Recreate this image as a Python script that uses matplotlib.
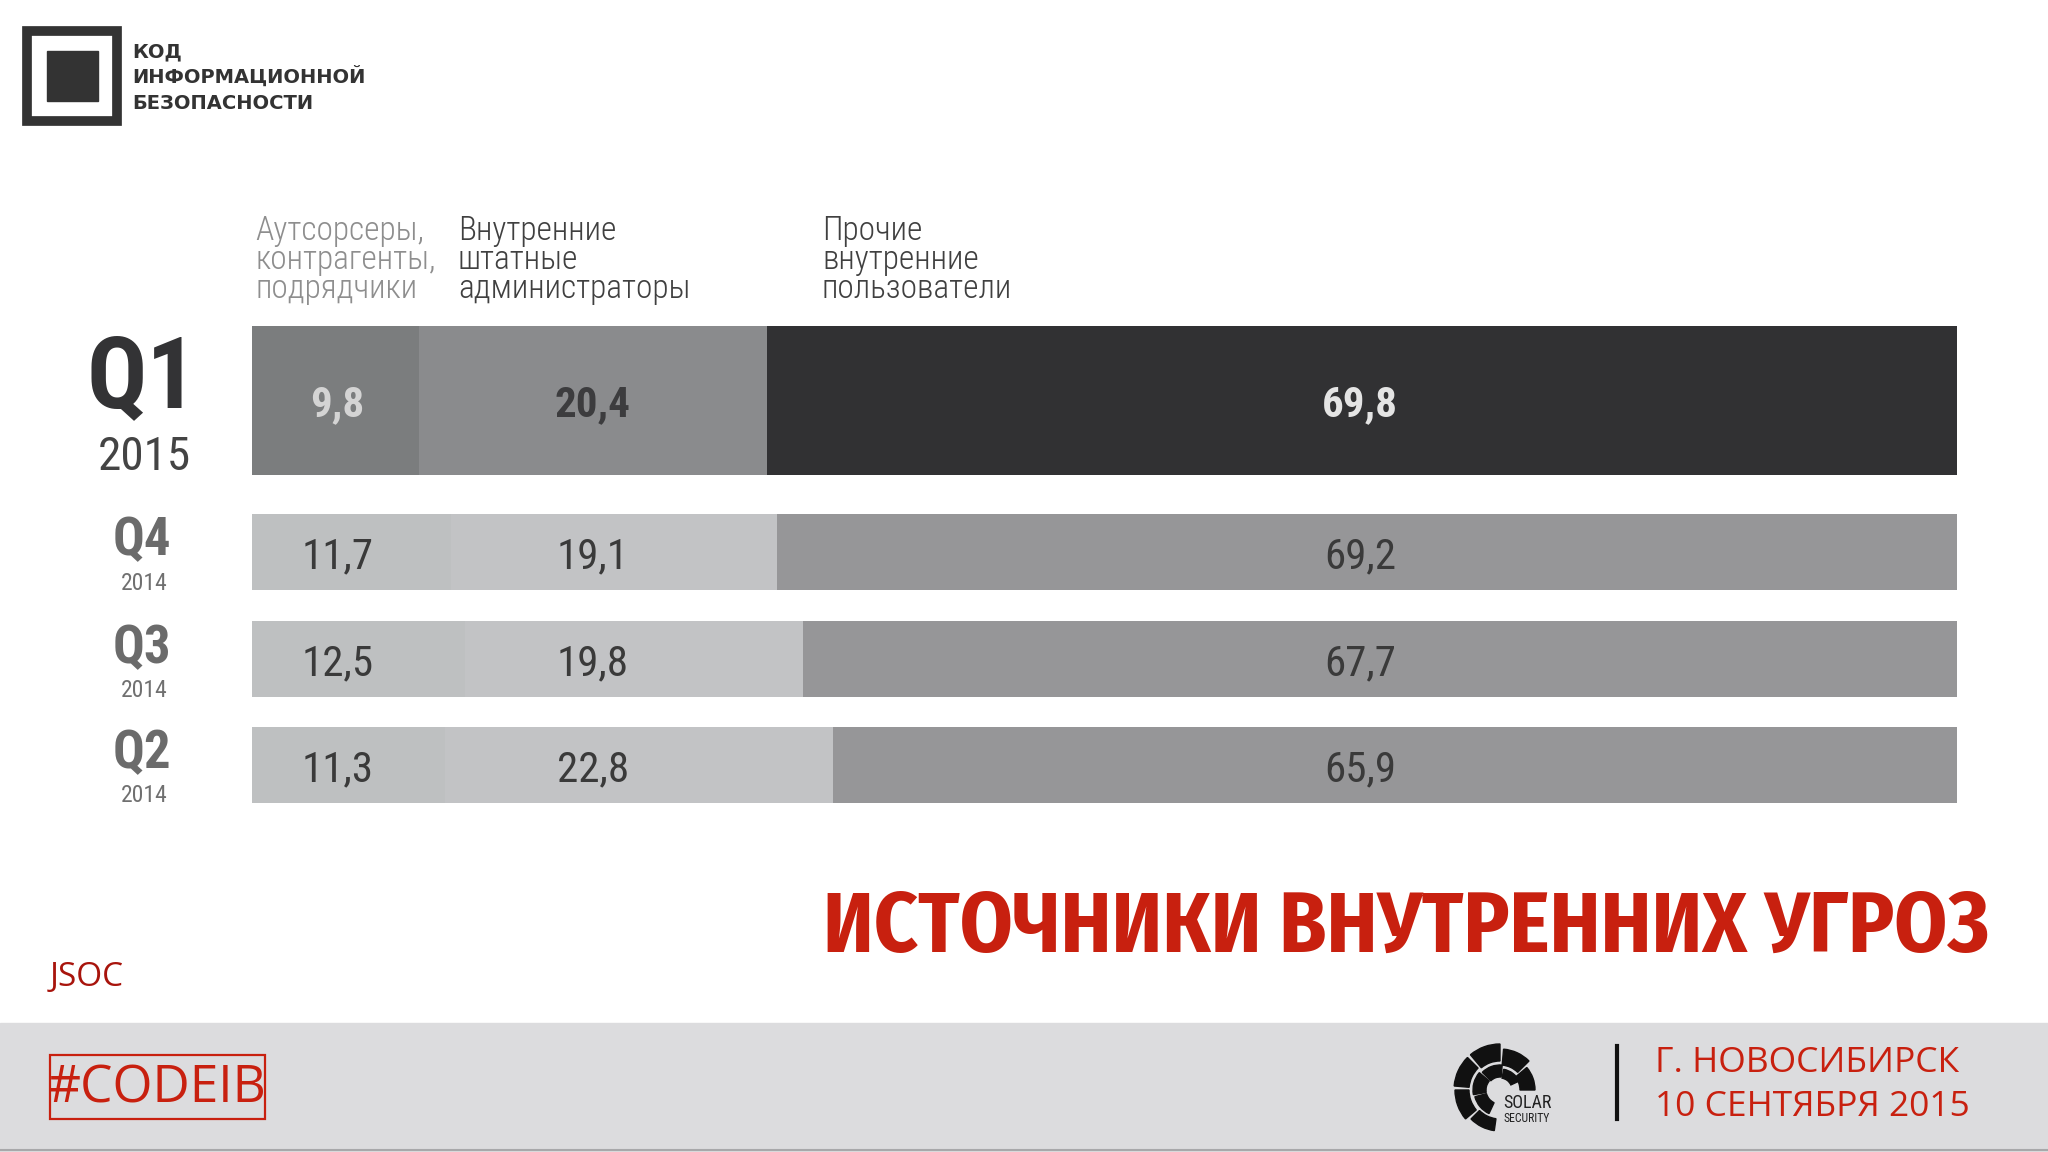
import matplotlib
matplotlib.use('Agg')
import matplotlib.pyplot as plt
from matplotlib.patches import Rectangle, Wedge

# Данные: доли источников внутренних угроз по кварталам, %
quarters = ['Q1', 'Q4', 'Q3', 'Q2']
years = ['2015', '2014', '2014', '2014']
outsourcers = [9.8, 11.7, 12.5, 11.3]
admins = [20.4, 19.1, 19.8, 22.8]
others = [69.8, 69.2, 67.7, 65.9]
series_names = [['Аутсорсеры,', 'контрагенты,', 'подрядчики'],
                ['Внутренние', 'штатные', 'администраторы'],
                ['Прочие', 'внутренние', 'пользователи']]

# Оформление
COND = ['Roboto Condensed', 'PT Sans Narrow', 'DejaVu Sans']
SANS = ['Open Sans', 'DejaVu Sans']
TITLE = ['Fira Sans Condensed', 'Open Sans Condensed', 'DejaVu Sans']
RED = '#c8200f'
W, H = 2048, 1152

row_y = [0, 1.42, 2.42, 3.41]
row_h = [1.39, 0.71, 0.71, 0.71]
seg_colors = [['#7b7d7e', '#bec0c1', '#bec0c1', '#bec0c1'],
              ['#8a8b8d', '#c2c3c5', '#c2c3c5', '#c2c3c5'],
              ['#313133', '#969698', '#969698', '#969698']]
q1_label_colors = ['#d4d4d4', '#3c3c3e', '#e4e4e4']
label_cols = [5, 20, 65]

fig = plt.figure(figsize=(W / 100, H / 100), dpi=100)

# Фоновый слой в пиксельных координатах
bg = fig.add_axes([0, 0, 1, 1])
bg.set_xlim(0, W)
bg.set_ylim(H, 0)
bg.axis('off')

# Нижняя серая плашка
bg.add_patch(Rectangle((0, 1023), W, 129, color='#dcdcde', zorder=0))
bg.plot([0, W], [1150, 1150], color='#a8a8aa', lw=1.5)

# Логотип «Код информационной безопасности»
bg.add_patch(Rectangle((27, 31), 90, 90, fill=False, edgecolor='#333333', lw=7))
bg.add_patch(Rectangle((47, 51), 51, 50, color='#333333'))
for i, line in enumerate(['КОД', 'ИНФОРМАЦИОННОЙ', 'БЕЗОПАСНОСТИ']):
    bg.text(132, 57 + i * 26, line, fontsize=14, fontweight='bold', color='#333333',
            family=['DejaVu Sans'], va='baseline', ha='left')

# Подписи рядов
header_x = [255, 458, 822]
header_colors = ['#8e8e8e', '#404040', '#404040']
header_base = [240, 269, 298]
for x, lines, c in zip(header_x, series_names, header_colors):
    for yb, line in zip(header_base, lines):
        bg.text(x, yb, line, fontsize=24, fontweight='light', color=c, family=COND,
                va='baseline', ha='left')

# Подписи кварталов
q_size = [72, 38, 38, 38]
q_base = [407, 555, 663, 768]
q_color = ['#333335', '#6b6b6b', '#6b6b6b', '#6b6b6b']
y_size = [34, 17, 17, 17]
y_base = [470, 590, 697, 802]
for i in range(len(quarters)):
    bg.text(142, q_base[i], quarters[i], fontsize=q_size[i], fontweight='heavy',
            color=q_color[i], family=COND, ha='center', va='baseline')
    bg.text(144, y_base[i], years[i], fontsize=y_size[i], color='#444444' if i == 0 else '#707070',
            family=COND, ha='center', va='baseline')

# Заголовок и подписи
bg.text(1989, 929, 'ИСТОЧНИКИ ВНУТРЕННИХ УГРОЗ', fontsize=61, fontweight='bold', color=RED,
        family=TITLE, ha='right', va='center')
bg.text(50, 977, 'JSOC', fontsize=24, color='#a8140c', family=SANS, ha='left', va='center')

bg.add_patch(Rectangle((50, 1055), 215, 64, fill=False, edgecolor=RED, lw=1.6))
bg.text(157, 1089, '#CODEIB', fontsize=37, color=RED, family=SANS, ha='center', va='center')

bg.plot([1617, 1617], [1046, 1119], color='#111111', lw=3)
bg.text(1655, 1063, 'Г. НОВОСИБИРСК', fontsize=25.5, color=RED, family=SANS, ha='left', va='center')
bg.text(1655, 1107, '10 СЕНТЯБРЯ 2015', fontsize=25.5, color=RED, family=SANS, ha='left', va='center')

# Логотип Solar Security (упрощённо)
cx, cy = 1500, 1090
pieces = [(0, 40, 20, 35), (45, 85, 25, 41), (90, 130, 29, 46), (135, 175, 31, 46),
          (180, 220, 31, 45), (225, 262, 29, 41),
          (25, 80, 12, 21), (85, 135, 13, 25), (140, 190, 14, 27), (195, 245, 14, 26)]
for a1, a2, r_in, r_out in pieces:
    bg.add_patch(Wedge((cx, cy), r_out, -a2, -a1, width=r_out - r_in, color='#111111'))
bg.text(1503, 1103, 'SOLAR', fontsize=13, color='#222222', family=COND, ha='left', va='center')
bg.text(1503, 1119, 'SECURITY', fontsize=8.5, color='#222222', family=COND, ha='left', va='center')

# Столбцы
ax = fig.add_axes([252 / W, 1 - 803 / H, (1957 - 252) / W, (803 - 326) / H])
ax.set_xlim(0, 100)
ax.set_ylim(3.41 + 0.355, -0.695)
ax.axis('off')

lefts = [0] * len(quarters)
for k, values in enumerate([outsourcers, admins, others]):
    ax.barh(row_y, values, left=lefts, height=row_h, color=seg_colors[k], linewidth=0)
    lefts = [l + v for l, v in zip(lefts, values)]
    for i, v in enumerate(values):
        txt = f'{v:.1f}'.replace('.', ',')
        if i == 0:
            ax.text(label_cols[k], row_y[i], txt, fontsize=31, fontweight='bold',
                    color=q1_label_colors[k], family=COND, ha='center', va='center_baseline')
        else:
            ax.text(label_cols[k], row_y[i], txt, fontsize=31, color='#3a3a3a',
                    family=COND, ha='center', va='center_baseline')

fig.savefig('out.png', dpi=100, facecolor='white')
